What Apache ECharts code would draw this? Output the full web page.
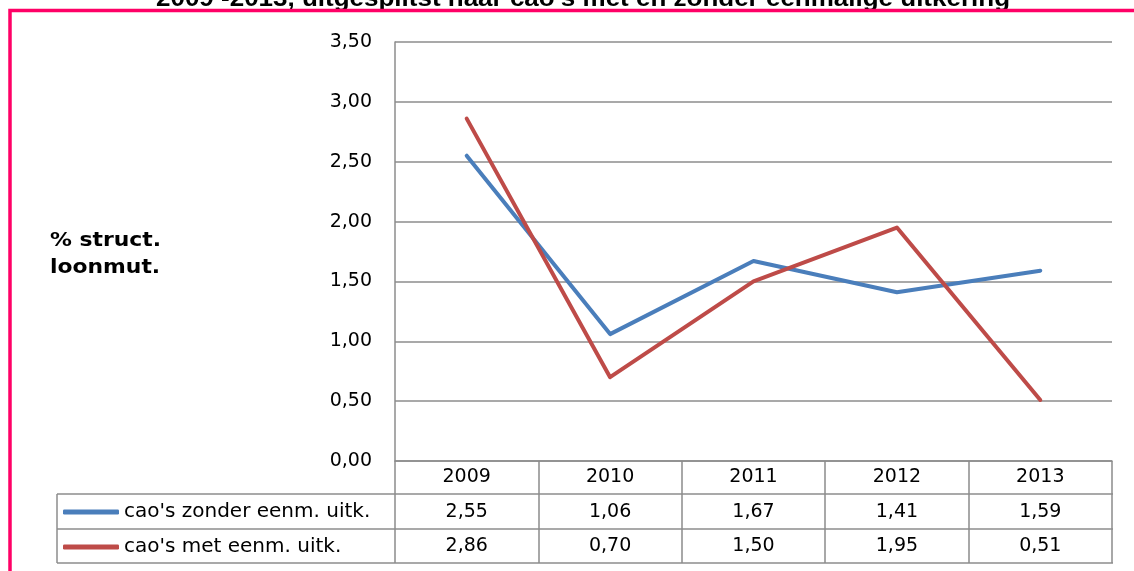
<!DOCTYPE html>
<html>
<head>
<meta charset="utf-8">
<script src="https://cdn.jsdelivr.net/npm/echarts@6/dist/echarts.min.js"></script>
<style>
  html, body { margin: 0; padding: 0; background: #fff; }
  #chart { width: 1134px; height: 571px; }
</style>
</head>
<body>
<div id="chart"></div>
<script>
// data
const years = ['2009', '2010', '2011', '2012', '2013'];
const zonder = [2.55, 1.06, 1.67, 1.41, 1.59];
const met = [2.86, 0.70, 1.50, 1.95, 0.51];
const seriesNames = ["cao's zonder eenm. uitk.", "cao's met eenm. uitk."];

const FONT = '"DejaVu Sans", Verdana, sans-serif';
const GRID_COLOR = '#8c8c8c';
const BLUE = '#4a7ebb';
const RED = '#be4b48';
const PINK = '#ff0066';

const fmt = (v) => v.toFixed(2).replace('.', ',');

const chart = echarts.init(document.getElementById('chart'));

const option = {
  animation: false,
  backgroundColor: '#fff',
  grid: { left: 395, right: 22, top: 42, bottom: 110 },
  legend: {
    orient: 'vertical',
    left: 63,
    top: 502,
    padding: 0,
    itemGap: 15,
    itemWidth: 56,
    itemHeight: 5,
    icon: 'roundRect',
    selectedMode: false,
    textStyle: { fontFamily: FONT, fontSize: 20, color: '#000', lineHeight: 20 },
    data: seriesNames,
  },
  xAxis: {
    type: 'category',
    data: years,
    boundaryGap: true,
    axisLine: { lineStyle: { color: GRID_COLOR, width: 1.5 } },
    axisTick: { show: true, interval: 0, length: 102, lineStyle: { color: GRID_COLOR, width: 1.5 } },
    axisLabel: {
      interval: 0,
      margin: -1,
      fontFamily: FONT,
      fontSize: 19,
      lineHeight: 34.5,
      color: '#000',
      formatter: (val, i) => val + '\n' + fmt(zonder[i]) + '\n' + fmt(met[i]),
    },
  },
  yAxis: {
    type: 'value',
    min: 0,
    max: 3.5,
    interval: 0.5,
    axisLine: { show: true, lineStyle: { color: GRID_COLOR, width: 1.5 } },
    axisTick: { show: false },
    axisLabel: {
      margin: 23,
      fontFamily: FONT,
      fontSize: 19,
      color: '#000',
      padding: [6, 0, 0, 0],
      formatter: fmt,
    },
    splitLine: { lineStyle: { color: GRID_COLOR, width: 1.5 } },
  },
  series: [
    {
      name: seriesNames[0],
      type: 'line',
      data: zonder,
      showSymbol: false,
      lineStyle: { color: BLUE, width: 4, cap: 'round', join: 'round' },
      itemStyle: { color: BLUE },
    },
    {
      name: seriesNames[1],
      type: 'line',
      data: met,
      showSymbol: false,
      lineStyle: { color: RED, width: 4, cap: 'round', join: 'round' },
      itemStyle: { color: RED },
    },
  ],
  graphic: [
    // cut-off title at the very top
    {
      type: 'text',
      x: 583,
      y: 0,
      scaleX: 1.13,
      style: {
        text: "2009 -2013, uitgesplitst naar cao's met en zonder eenmalige uitkering",
        font: 'bold 23px "Liberation Sans", Arial, sans-serif',
        fill: '#000',
        align: 'center',
        verticalAlign: 'middle',
      },
      z: 1,
    },
    // pink frame
    {
      type: 'polyline',
      shape: { points: [[10, 600], [10, 10.5], [1140, 10.5]] },
      style: { stroke: PINK, lineWidth: 3.5, fill: null },
      z: 2,
    },
    // y-axis title
    {
      type: 'text',
      x: 50,
      y: 228,
      scaleX: 1.15,
      style: {
        text: '% struct.\nloonmut.',
        font: 'bold 19px ' + FONT,
        lineHeight: 27,
        fill: '#000',
      },
    },
    // data table frame
    { type: 'line', shape: { x1: 57, y1: 494, x2: 1113, y2: 494 }, style: { stroke: GRID_COLOR, lineWidth: 1.5 } },
    { type: 'line', shape: { x1: 57, y1: 529, x2: 1113, y2: 529 }, style: { stroke: GRID_COLOR, lineWidth: 1.5 } },
    { type: 'line', shape: { x1: 57, y1: 563, x2: 1113, y2: 563 }, style: { stroke: GRID_COLOR, lineWidth: 1.5 } },
    { type: 'line', shape: { x1: 57, y1: 494, x2: 57, y2: 563 }, style: { stroke: GRID_COLOR, lineWidth: 1.5 } },
  ],
};

chart.setOption(option);
</script>
</body>
</html>
